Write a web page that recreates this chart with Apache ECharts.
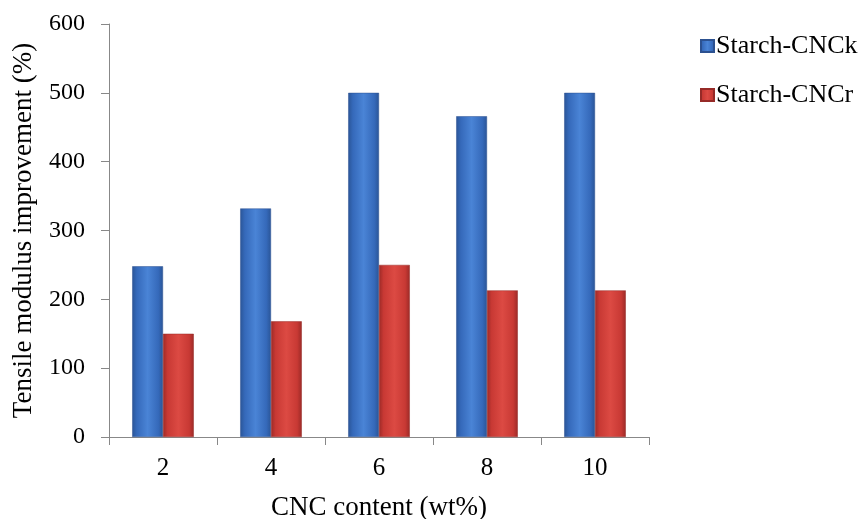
<!DOCTYPE html>
<html>
<head>
<meta charset="utf-8">
<script src="https://cdn.jsdelivr.net/npm/echarts@6/dist/echarts.min.js"></script>
<style>html,body{margin:0;padding:0;background:#fff}#c{width:865px;height:519px}</style>
</head>
<body>
<div id="c"></div>
<script>
const categories = ['2', '4', '6', '8', '10'];
const seriesNames = ['Starch-CNCk', 'Starch-CNCr'];
const cnckValues = [248, 332, 500, 466, 500];
const cncrValues = [150, 168, 250, 213, 213];
const yTicks = [0, 100, 200, 300, 400, 500, 600];

const font = 'Liberation Serif, Times New Roman, serif';
function grad(edge, mid, light) {
  return new echarts.graphic.LinearGradient(0, 0, 1, 0, [
    {offset: 0, color: edge},
    {offset: 0.15, color: mid},
    {offset: 0.5, color: light},
    {offset: 0.85, color: mid},
    {offset: 1, color: edge}
  ]);
}
const chart = echarts.init(document.getElementById('c'), null, {renderer: 'canvas'});
chart.setOption({
  animation: false,
  backgroundColor: '#fff',
  grid: {left: 109, right: 216, top: 24, bottom: 82, containLabel: false, outerBoundsMode: 'none'},
  legend: {
    orient: 'vertical', left: 695, top: 28, itemWidth: 13, itemHeight: 12, itemGap: 23,
    icon: 'rect',
    textStyle: {fontFamily: font, fontSize: 26, color: '#000', padding: [0,0,0,-3]},
    data: seriesNames
  },
  xAxis: {
    type: 'category', data: categories,
    name: 'CNC content (wt%)', nameLocation: 'middle', nameGap: 57,
    nameTextStyle: {fontFamily: font, fontSize: 27, color: '#000'},
    axisLine: {lineStyle: {color: '#888', width: 1}},
    axisTick: {show: true, length: 8, lineStyle: {color: '#888'}},
    axisLabel: {fontFamily: font, fontSize: 25, color: '#000', margin: 19}
  },
  yAxis: {
    type: 'value', min: 0, max: 600, interval: 100,
    name: 'Tensile modulus improvement (%)', nameLocation: 'middle', nameGap: 72,
    nameTextStyle: {fontFamily: font, fontSize: 27, color: '#000'},
    axisLine: {show: true, lineStyle: {color: '#888', width: 1}},
    axisTick: {show: true, length: 8, lineStyle: {color: '#888'}},
    splitLine: {show: false},
    axisLabel: {fontFamily: font, fontSize: 24, color: '#000', margin: 24,
      formatter: v => yTicks.includes(v) ? String(v) : ''}
  },
  series: [
    {name: seriesNames[0], type: 'bar', data: cnckValues, barGap: '0%', barCategoryGap: '43%',
     itemStyle: {color: grad('#2a5597', '#3569ba', '#4a84d6'), borderColor: '#2c5190', borderWidth: 0.5}},
    {name: seriesNames[1], type: 'bar', data: cncrValues, barGap: '0%', barCategoryGap: '43%',
     itemStyle: {color: grad('#9c2a27', '#c83934', '#dc4a43'), borderColor: '#962a27', borderWidth: 0.5}}
  ]
});
</script>
</body>
</html>
